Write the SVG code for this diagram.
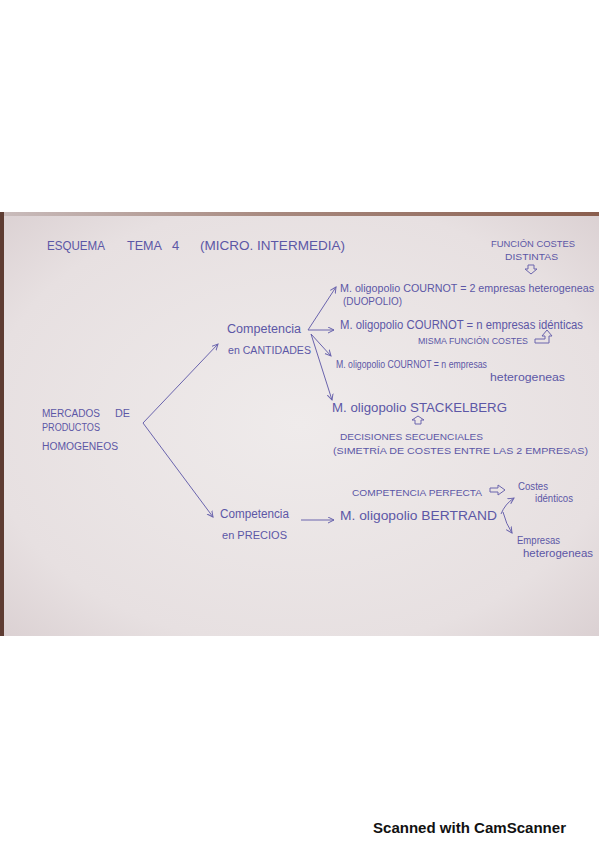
<svg xmlns="http://www.w3.org/2000/svg" width="599" height="848" viewBox="0 0 599 848">
<defs>
<radialGradient id="paper" cx="0.5" cy="0.5" r="0.75">
<stop offset="0" stop-color="#efebeb"/>
<stop offset="0.7" stop-color="#e7e0e1"/>
<stop offset="1" stop-color="#d8cdcf"/>
</radialGradient>
<linearGradient id="topedge" x1="0" y1="0" x2="1" y2="0">
<stop offset="0" stop-color="#c9bcbc"/>
<stop offset="0.45" stop-color="#a88a80"/>
<stop offset="1" stop-color="#8a5e4e"/>
</linearGradient>
<marker id="chev" markerUnits="userSpaceOnUse" markerWidth="8" markerHeight="8" refX="6" refY="3.5" orient="auto">
<path d="M0,0.5 L6,3.5 L0,6.5" fill="none" stroke="#6a64ad" stroke-width="1"/>
</marker>
<style>
.t{font-family:"Liberation Sans","Noto Sans",sans-serif;fill:#5c57a6;}
.s{font-size:9px;}
.m{font-size:10px;}
.l{font-size:12px;}
.con{fill:none;stroke:#6a64ad;stroke-width:1;}
.hol{fill:none;stroke:#6a64ad;stroke-width:1;stroke-linejoin:round;}
</style>
</defs>
<rect width="599" height="848" fill="#ffffff"/>
<g id="paper-sheet">
<rect x="0" y="212" width="599" height="424" fill="url(#paper)"/>
<rect x="0" y="212" width="599" height="4" fill="url(#topedge)"/>
<rect x="0" y="212" width="4" height="424" fill="#5e3c32"/>
</g>
<g id="connectors">
<path class="con" d="M143,423 L218,344" marker-end="url(#chev)"/>
<path class="con" d="M143,423 L213,517" marker-end="url(#chev)"/>
<path class="con" d="M308,330 L336,287" marker-end="url(#chev)"/>
<path class="con" d="M308,330 L334,330" marker-end="url(#chev)"/>
<path class="con" d="M311,334 L331,356" marker-end="url(#chev)"/>
<path class="con" d="M311,334 L332,400" marker-end="url(#chev)"/>
<path class="con" d="M301,520 L334,520" marker-end="url(#chev)"/>
<path class="con" d="M501,514 Q505,504 514,498" marker-end="url(#chev)"/>
<path class="con" d="M503,512 Q506,524 512,533" marker-end="url(#chev)"/>
</g>
<g id="title">
<text class="t" x="47" y="250" font-size="13" textLength="58" lengthAdjust="spacingAndGlyphs">ESQUEMA</text>
<text class="t" x="127" y="250" font-size="13" textLength="35" lengthAdjust="spacingAndGlyphs">TEMA</text>
<text class="t" x="172" y="250" font-size="13">4</text>
<text class="t" x="200" y="250" font-size="13" textLength="145" lengthAdjust="spacingAndGlyphs">(MICRO. INTERMEDIA)</text>
</g>
<g id="mercados">
<text class="t m" x="42" y="417" textLength="58" lengthAdjust="spacingAndGlyphs">MERCADOS</text>
<text class="t m" x="115" y="417" textLength="15" lengthAdjust="spacingAndGlyphs">DE</text>
<text class="t m" x="42" y="431" textLength="58" lengthAdjust="spacingAndGlyphs">PRODUCTOS</text>
<text class="t m" x="42" y="450" textLength="76" lengthAdjust="spacingAndGlyphs">HOMOGENEOS</text>
</g>
<g id="comp-cantidades">
<text class="t l" x="227" y="333" textLength="74" lengthAdjust="spacingAndGlyphs">Competencia</text>
<text class="t m" x="228" y="354" textLength="83" lengthAdjust="spacingAndGlyphs">en CANTIDADES</text>
</g>
<g id="comp-precios">
<text class="t l" x="220" y="518" textLength="69" lengthAdjust="spacingAndGlyphs">Competencia</text>
<text class="t m" x="222" y="539" textLength="65" lengthAdjust="spacingAndGlyphs">en PRECIOS</text>
</g>
<g id="funcion-costes">
<text class="t s" x="491" y="247" textLength="84" lengthAdjust="spacingAndGlyphs">FUNCIÓN COSTES</text>
<text class="t s" x="505" y="260" textLength="53" lengthAdjust="spacingAndGlyphs">DISTINTAS</text>
<polygon class="hol" points="528,265 534,265 534,269 537,269 531,274 525,269 528,269"/>
</g>
<g id="cournot-2">
<text class="t" font-size="11" x="340" y="292" textLength="254" lengthAdjust="spacingAndGlyphs">M. oligopolio COURNOT = 2 empresas heterogeneas</text>
<text class="t m" x="343" y="305" textLength="59" lengthAdjust="spacingAndGlyphs">(DUOPOLIO)</text>
</g>
<g id="cournot-n-identicas">
<text class="t l" x="340" y="329" textLength="243" lengthAdjust="spacingAndGlyphs">M. oligopolio COURNOT = n empresas idénticas</text>
<text class="t s" x="418" y="344" textLength="110" lengthAdjust="spacingAndGlyphs">MISMA FUNCIÓN COSTES</text>
<polygon class="hol" points="535,343 549,343 549,336 552,336 547,330 542,336 545,336 545,339 535,339"/>
</g>
<g id="cournot-n-hetero">
<text class="t" font-size="10.5" x="336" y="368" textLength="151" lengthAdjust="spacingAndGlyphs">M. oligopolio COURNOT = n empresas</text>
<text class="t m" x="490" y="381" textLength="75" lengthAdjust="spacingAndGlyphs">heterogeneas</text>
</g>
<g id="stackelberg">
<text class="t l" x="332" y="412" textLength="175" lengthAdjust="spacingAndGlyphs">M. oligopolio STACKELBERG</text>
<polygon class="hol" points="418,416 424,420 421,420 421,424 415,424 415,420 412,420"/>
<text class="t s" x="340" y="440" textLength="143" lengthAdjust="spacingAndGlyphs">DECISIONES SECUENCIALES</text>
<text class="t s" x="333" y="454" textLength="255" lengthAdjust="spacingAndGlyphs">(SIMETRÍA DE COSTES ENTRE LAS 2 EMPRESAS)</text>
</g>
<g id="competencia-perfecta">
<text class="t s" x="352" y="496" textLength="130" lengthAdjust="spacingAndGlyphs">COMPETENCIA PERFECTA</text>
<polygon class="hol" points="490,488 498,488 498,485 505,490 498,495 498,492 490,492"/>
<text class="t m" x="518" y="490" textLength="30" lengthAdjust="spacingAndGlyphs">Costes</text>
<text class="t m" x="535" y="502" textLength="38" lengthAdjust="spacingAndGlyphs">idénticos</text>
</g>
<g id="bertrand">
<text class="t l" x="340" y="520" textLength="157" lengthAdjust="spacingAndGlyphs">M. oligopolio BERTRAND</text>
</g>
<g id="empresas-hetero">
<text class="t m" x="517" y="544" textLength="43" lengthAdjust="spacingAndGlyphs">Empresas</text>
<text class="t m" x="523" y="557" textLength="70" lengthAdjust="spacingAndGlyphs">heterogeneas</text>
</g>
<g id="footer"><text x="373" y="833" font-family="Liberation Sans, Arial, sans-serif" font-size="14" font-weight="bold" fill="#111111" textLength="193" lengthAdjust="spacingAndGlyphs">Scanned with CamScanner</text></g>
</svg>
